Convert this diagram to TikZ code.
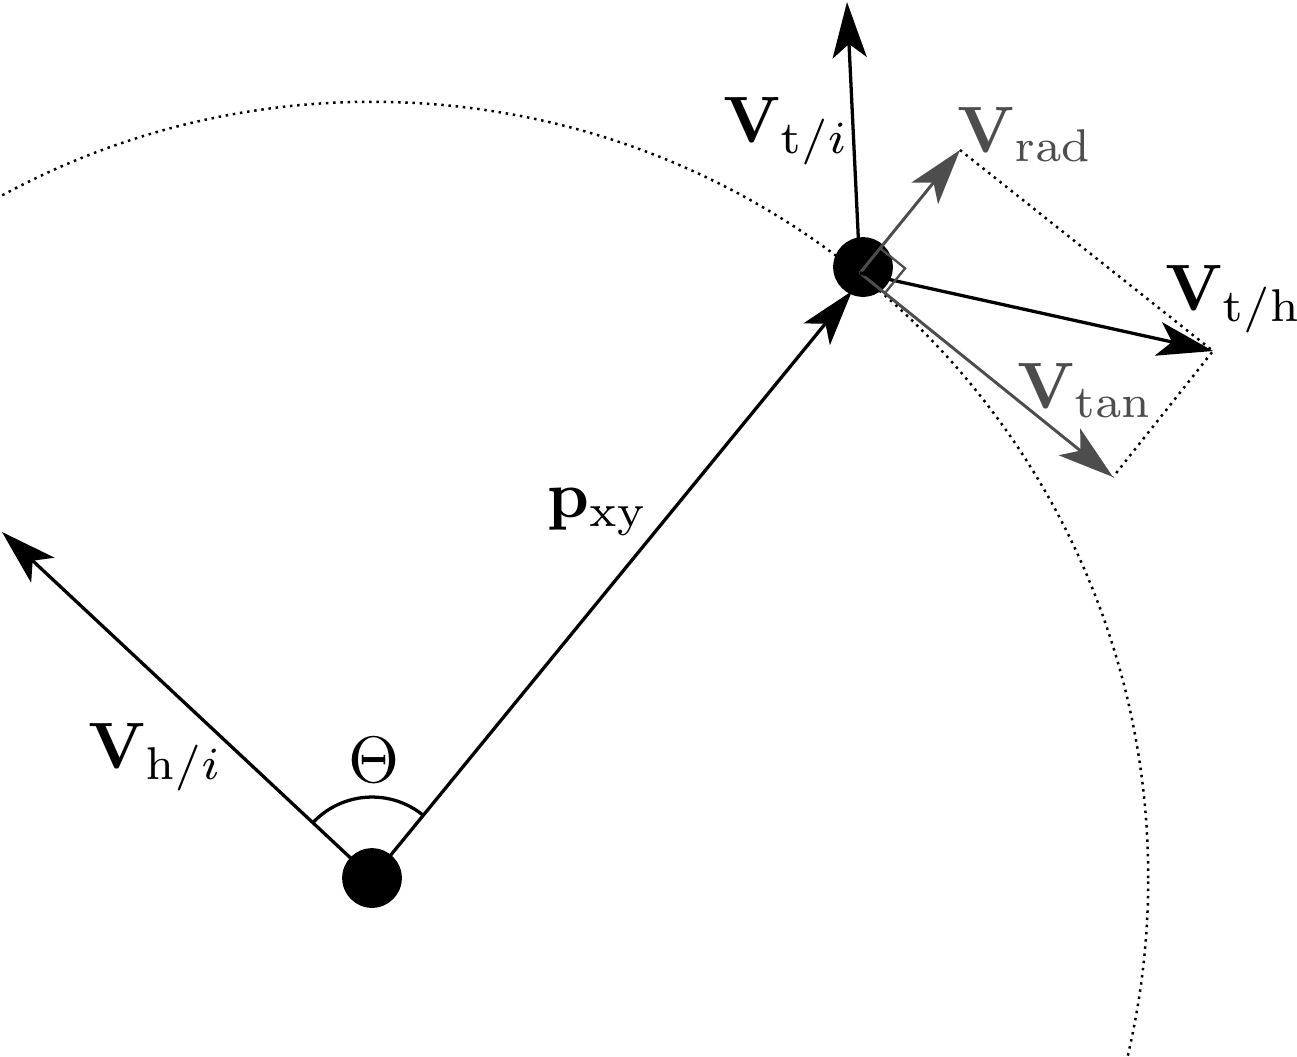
\documentclass[tikz,border=0pt]{standalone}
\usetikzlibrary{arrows.meta}
\definecolor{vgray}{RGB}{77,77,77}
\begin{document}
\begin{tikzpicture}[x=0.1524pt,y=-0.1524pt,
  vec/.style={line width=0.5pt,-{Stealth[length=8.5pt,width=5.2pt,inset=2.1pt]}},
  gvec/.style={vec, draw=vgray, fill=vgray, line width=0.45pt},
  guide/.style={line width=0.38pt, dash pattern=on 0.38pt off 0.72pt},
  dotnode/.style={circle, fill=black, inner sep=0pt, minimum size=9.1pt},
  lab/.style={anchor=base west, inner sep=0pt}]
\useasboundingbox (0,0) rectangle (1297,1056);
% guide circle
\begin{scope}
\clip (0,0) rectangle (1297,1056);
\draw[guide] (372,878) circle[radius=118.3pt];
\end{scope}
% points
\node[dotnode] (H) at (372,878) {};
\node[dotnode] (Tdot) at (863,267) {};
\coordinate (Hc) at (372,878);
\coordinate (T) at (860,273);
\coordinate (Vhi) at (2,532);
\coordinate (Ptip) at (852,291);
\coordinate (Vti) at (847,2);
\coordinate (Vrad) at (960,150);
\coordinate (Vtan) at (1113,477);
\coordinate (Vth) at (1213,351);
% dotted parallelogram
\draw[guide] (Vrad) -- (Vth) -- (Vtan);
% angle arc
\draw[line width=0.5pt] ([shift={(136.9:12.34pt)}]Hc) arc[start angle=136.9, end angle=50.7, radius=12.34pt];
% vectors
\draw[vec] (Hc) -- (Vhi);
\draw[vec] (Hc) -- (Ptip);
\draw[vec] (T) -- (Vti);
\draw[gvec] (T) -- (Vrad);
\draw[gvec] (T) -- (Vtan);
\draw[vec] (T) -- (Vth);
% right angle mark
\draw[vgray, line width=0.35pt] (880.2,248.2) -- (905.1,268.3) -- (884.9,293.1);
% labels
\node[lab] (lVti) at (722,142) {$\mathbf{V}_{\mathrm{t}/i}$};
\node[lab, text=vgray] (lVrad) at (956,152) {$\mathbf{V}_{\mathrm{rad}}$};
\node[lab] (lVth) at (1164,310) {$\mathbf{V}_{\mathrm{t/h}}$};
\node[lab, text=vgray] (lVtan) at (1016,408) {$\mathbf{V}_{\mathrm{tan}}$};
\node[lab] (lP) at (546,517) {$\mathbf{p}_{\mathrm{xy}}$};
\node[lab] (lVhi) at (87,768) {$\mathbf{V}_{\mathrm{h}/i}$};
\node[lab] (lTh) at (347,782) {$\Theta$};
\end{tikzpicture}
\end{document}
